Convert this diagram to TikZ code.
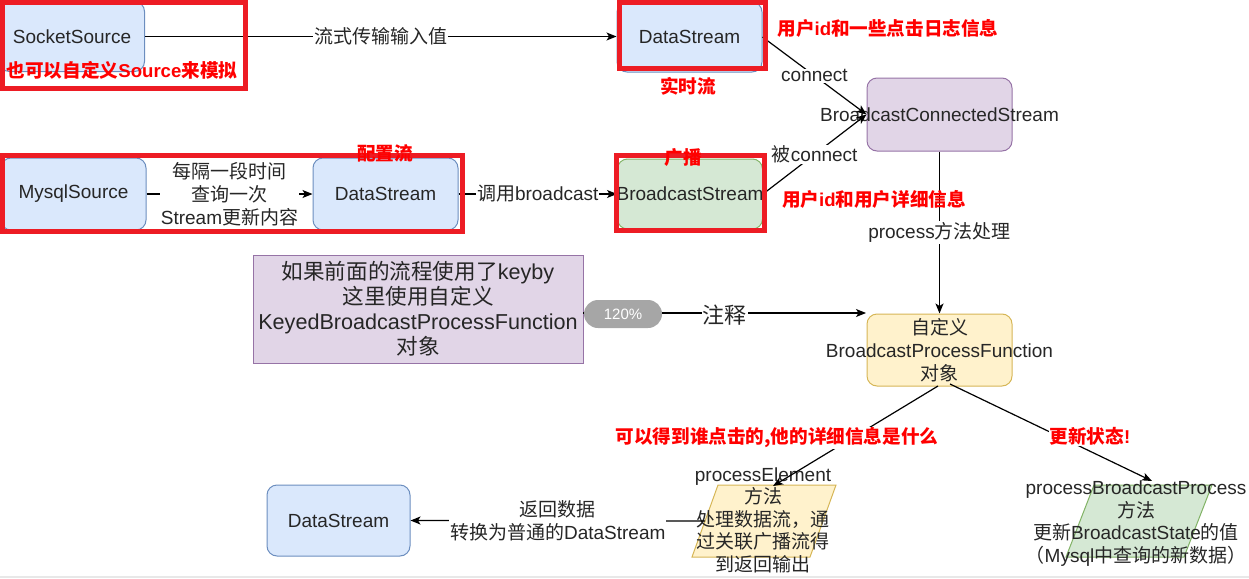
\documentclass[tikz,border=0pt]{standalone}
\usepackage{fontspec}
\setmainfont{Liberation Sans}
\newfontfamily\cjk{Noto Sans CJK SC}
\newcommand\Z[1]{{\cjk #1}}
\usetikzlibrary{arrows.meta,calc}
\definecolor{bluefill}{HTML}{DAE8FC}
\definecolor{bluedraw}{HTML}{6C8EBF}
\definecolor{greenfill}{HTML}{D5E8D4}
\definecolor{greendraw}{HTML}{82B366}
\definecolor{purplefill}{HTML}{E1D5E7}
\definecolor{purpledraw}{HTML}{9673A6}
\definecolor{yellowfill}{HTML}{FFF2CC}
\definecolor{yellowdraw}{HTML}{D6B656}
\definecolor{txt}{HTML}{262626}
\definecolor{markred}{HTML}{ED1C24}
\definecolor{labelred}{HTML}{FF0000}
\definecolor{pillgray}{HTML}{A6A6A6}
\definecolor{edgegray}{HTML}{E8E8E8}
\begin{document}
\begin{tikzpicture}[x=1pt,y=-1pt,
  box/.style={draw, rounded corners=10pt, line width=1pt, minimum width=145pt,
    minimum height=71pt, inner sep=0pt, text=txt,
    font=\fontsize{19}{23}\selectfont, align=center},
  bluebox/.style={box, fill=bluefill, draw=bluedraw},
  greenbox/.style={box, fill=greenfill, draw=greendraw},
  purplebox/.style={box, fill=purplefill, draw=purpledraw},
  yellowbox/.style={box, fill=yellowfill, draw=yellowdraw},
  edge/.style={draw=black, line width=1.2pt, -{Stealth[length=10pt,width=8pt,inset=2.5pt]}},
  lbl/.style={fill=white, inner sep=1pt, text=txt, font=\fontsize{19}{23}\selectfont, align=center},
  ptext/.style={inner sep=0pt, text=txt, font=\fontsize{19}{22.5}\selectfont, align=center},
  redbox/.style={draw=markred, line width=5pt},
  redlbl/.style={inner sep=0pt, text=labelred, font=\fontsize{18.6}{22}\selectfont\bfseries},
  haloed/.style={redlbl, fill=white, inner sep=1pt},
  pill/.style={fill=pillgray, rounded corners=14pt, minimum width=78pt, minimum height=28pt,
    inner sep=0pt, text=white, font=\fontsize{15}{18}\selectfont}
]
\useasboundingbox (0,0) rectangle (1249,578);
\fill[edgegray] (0,576) rectangle (1249,578);

% boxes
\node[bluebox, minimum height=70pt] (sock) at (72,36.5) {\makebox[0pt]{SocketSource}};
\node[bluebox, minimum height=70pt] (ds1) at (689.5,37) {\makebox[0pt]{DataStream}};
\node[purplebox, minimum height=73pt] (bcs) at (939.5,114.5) {\makebox[0pt]{BroadcastConnectedStream}};
\node[bluebox, minimum height=72pt] (mysql) at (73.5,194) {\makebox[0pt]{MysqlSource}};
\node[bluebox, minimum height=72pt] (ds2) at (385.5,194) {\makebox[0pt]{DataStream}};
\node[greenbox, minimum height=70pt] (bs) at (690,194) {\makebox[0pt]{BroadcastStream}};
\node[purplebox, rounded corners=0pt, minimum width=330pt, minimum height=108pt,
  font=\fontsize{21.6}{25}\selectfont] (note) at (418,309)
  {\Z{如果前面的流程使用了}keyby\\\Z{这里使用自定义}\\KeyedBroadcastProcessFunction\\\Z{对象}};
\node[yellowbox, minimum height=72pt] (bpf) at (939.5,350)
  {\Z{自定义}\\\makebox[0pt]{BroadcastProcessFunction}\\\Z{对象}};
\node[bluebox, minimum width=143pt, minimum height=71pt] (ds3) at (338.5,520.5) {\makebox[0pt]{DataStream}};

% parallelograms
\draw[fill=yellowfill, draw=yellowdraw, line width=1pt] (692,557) -- (718,485) -- (836,485) -- (810,557) -- cycle;
\draw[fill=greenfill, draw=greendraw, line width=1pt] (1066,557) -- (1094,485) -- (1212,485) -- (1184,557) -- cycle;
\node[ptext] (pe) at (763,520) {processElement\\\Z{方法}\\\Z{处理数据流，通}\\\Z{过关联广播流得}\\\Z{到返回输出}};
\node[ptext] (pbp) at (1136,523.5) {processBroadcastProcess\\\Z{方法}\\\Z{更新}BroadcastState\Z{的值}\\\Z{（}Mysql\Z{中查询的新数据）}};
\coordinate (pe-n) at (773,486);
\coordinate (pe-w) at (705,521);
\coordinate (pbp-n) at (1152,481);
\coordinate (bpf-s1) at (938,386);
\coordinate (bpf-s2) at (950,384);
\coordinate (note-e) at (583,313);
\coordinate (bpf-nw) at (866,313);

% connectors
\draw[edge] (sock.east) -- node[lbl]{\Z{流式传输输入值}} (ds1.west |- sock.east);
\draw[edge] (ds1.east) -- node[lbl]{connect} (bcs.west);
\draw[edge] (bs.east) -- node[lbl]{\Z{被}connect} (bcs.west);
\draw[edge] (mysql.east) -- node[lbl]{\Z{每隔一段时间}\\\Z{查询一次}\\Stream\Z{更新内容}} (ds2.west);
\draw[edge] (ds2.east) -- node[lbl]{\Z{调用}broadcast} (bs.west);
\draw[edge] (bcs.south) -- node[lbl]{process\Z{方法处理}} (bpf.north);
\draw[edge] (note-e) -- node[lbl, font=\fontsize{22}{26}\selectfont, yshift=-2pt]{\Z{注释}} (bpf-nw);
\draw[edge] (bpf-s1) -- (pe-n);
\draw[edge] (bpf-s2) -- (pbp-n);
\draw[edge] (pe-w) -- node[lbl]{\Z{返回数据}\\\Z{转换为普通的}DataStream} (ds3.east);

\node[pill] (zoompill) at (623,314) {120\%};

% red highlight frames
\draw[redbox] (2.5,2.5) rectangle (245.5,88);
\draw[redbox] (619.5,2.5) rectangle (765.5,68.5);
\draw[redbox] (2.5,155) rectangle (462.5,231.5);
\draw[redbox] (616,155.5) rectangle (764.5,230);

% red annotations
\node[redlbl] (t1) at (122,70) {\Z{也可以自定义}Source\Z{来模拟}};
\node[redlbl] (t2) at (688,86) {\Z{实时流}};
\node[redlbl] (t3) at (888,28) {\Z{用户}id\Z{和一些点击日志信息}};
\node[redlbl] (t4) at (683,158) {\Z{广播}};
\node[redlbl] (t5) at (385,153) {\Z{配置流}};
\node[redlbl] (t6) at (874,199) {\Z{用户}id\Z{和用户详细信息}};
\node[haloed] (t7) at (777,438) {\Z{可以得到谁点击的,他的详细信息是什么}};
\node[haloed] (t8) at (1090,436) {\Z{更新状态}!};
\end{tikzpicture}
\end{document}
